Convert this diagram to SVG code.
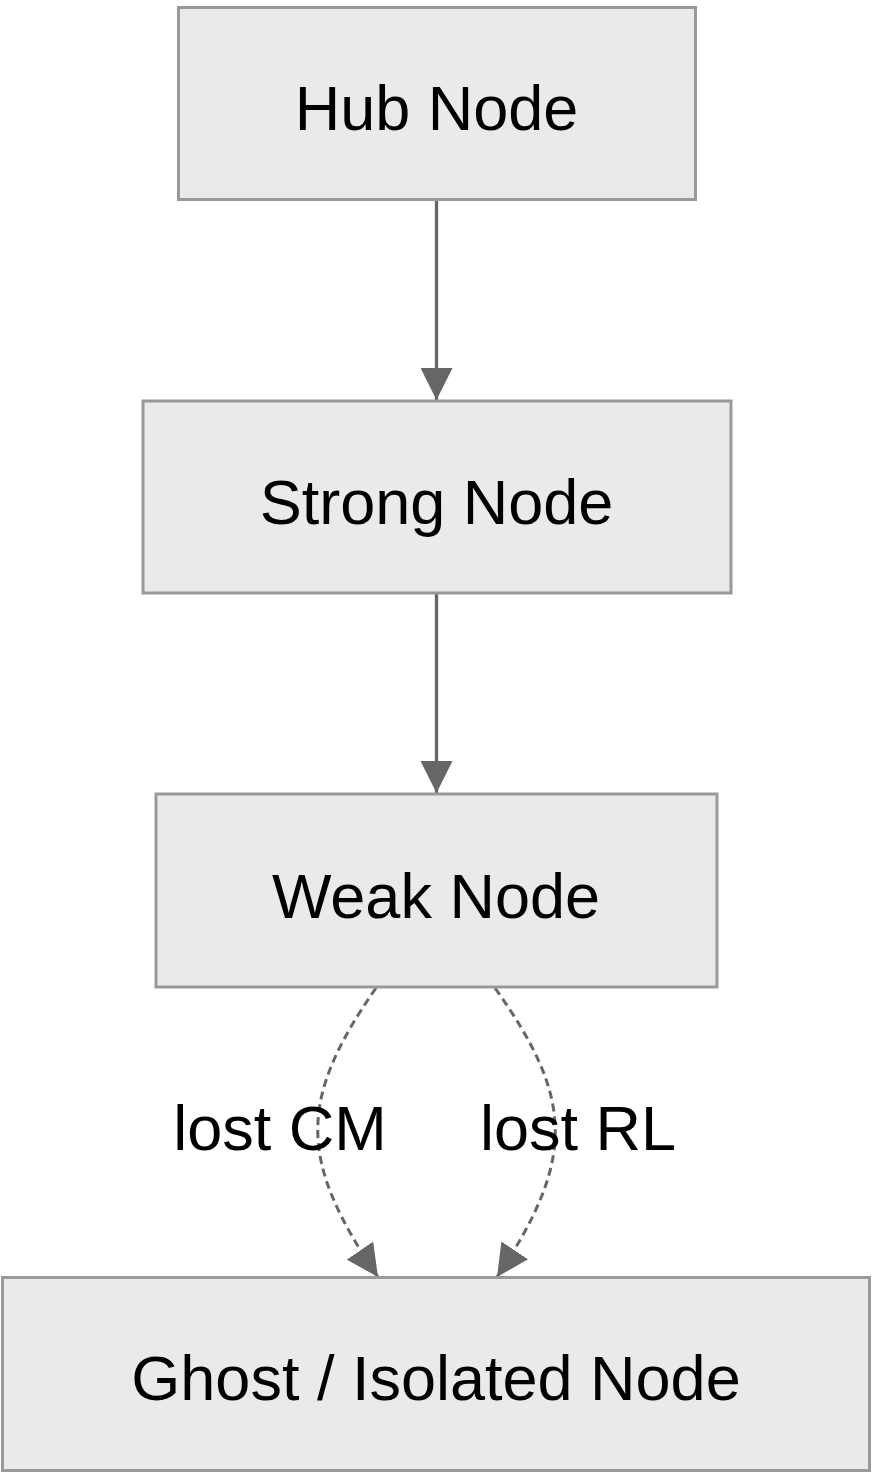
<svg xmlns="http://www.w3.org/2000/svg" width="872" height="1473" viewBox="0 0 872 1473">
<style>
.node rect{fill:#eaeaea;stroke:#999;stroke-width:3}
.node text{font-family:"Liberation Sans",Arial,sans-serif;font-size:63px;fill:#000;text-anchor:middle}
.edge{fill:none;stroke:#666;stroke-width:3.3}
.dash{stroke-dasharray:8 5;stroke-width:3}
.lbl{font-family:"Liberation Sans",Arial,sans-serif;font-size:63px;fill:#000;text-anchor:middle}
</style>
<defs>
<marker id="arrow" markerUnits="userSpaceOnUse" markerWidth="32" markerHeight="32" viewBox="0 0 10 10" refX="10" refY="5" orient="auto">
<path d="M0,0 L10,5 L0,10 z" fill="#666"/>
</marker>
</defs>
<rect width="872" height="1473" fill="#fff"/>
<g id="connectors">
<path class="edge" d="M436.5,200 L436.5,400" marker-end="url(#arrow)"/>
<path class="edge" d="M436.5,594 L436.5,793" marker-end="url(#arrow)"/>
<path class="edge dash" d="M376,988 C298,1100 298,1160 378,1277" marker-end="url(#arrow)"/>
<path class="edge dash" d="M495,988 C575,1100 575,1160 497,1277" marker-end="url(#arrow)"/>
<text class="lbl" x="280" y="1150">lost CM</text>
<text class="lbl" x="578" y="1150">lost RL</text>
</g>
<g id="hub" class="node">
<rect x="178.5" y="7.5" width="517" height="192"/>
<text x="436.5" y="130">Hub Node</text>
</g>
<g id="strong" class="node">
<rect x="143" y="401" width="588" height="192"/>
<text x="436.5" y="524">Strong Node</text>
</g>
<g id="weak" class="node">
<rect x="156" y="794" width="561" height="193"/>
<text x="436" y="918">Weak Node</text>
</g>
<g id="ghost" class="node">
<rect x="2.5" y="1277.5" width="867" height="193"/>
<text x="436" y="1400">Ghost / Isolated Node</text>
</g>
</svg>
